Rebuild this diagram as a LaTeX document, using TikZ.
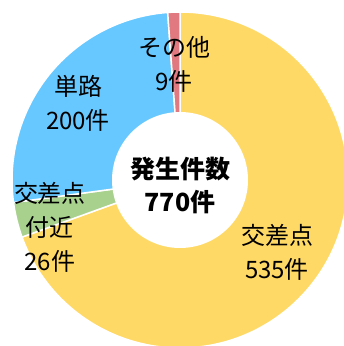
\documentclass[tikz,border=0pt]{standalone}
\usepackage{fontspec}
\setmainfont{Noto Sans CJK JP}
\definecolor{kosaten}{RGB}{255,217,102}
\definecolor{fukin}{RGB}{169,209,142}
\definecolor{tanro}{RGB}{102,200,255}
\definecolor{sonota}{RGB}{224,122,128}

\begin{document}
\begin{tikzpicture}[x=1pt,y=1pt,
			slice/.style={draw=white,line width=1.5pt},
			label node/.style={align=center,font=\fontsize{24}{34}\selectfont},
			total node/.style={align=center,font=\fontsize{25}{33}\selectfont\bfseries}]
			\useasboundingbox (0,0) rectangle (344,346);
			\clip (0,0) rectangle (344,346);
			\coordinate (c) at (180,166);
			% wedges, clockwise from the top
			\fill[kosaten,slice] (c) -- ++(90:168) arc (90:-160.13:168) -- cycle;
			\fill[fukin,slice] (c) -- ++(-160.13:168) arc (-160.13:-172.29:168) -- cycle;
			\fill[tanro,slice] (c) -- ++(-172.29:168) arc (-172.29:-265.79:168) -- cycle;
			\fill[sonota,slice] (c) -- ++(-265.79:168) arc (-265.79:-270:168) -- cycle;
			\fill[white] (c) circle (68);
			% labels
			\node[label node] (sonota) at (174,282) {その他\\9件};
			\node[label node] (tanro) at (78,243) {単路\\200件};
			\node[label node] (fukin) at (50,119) {交差点\\付近\\26件};
			\node[label node] (kosaten) at (277,94) {交差点\\535件};
			\node[total node] (total) at (180,161) {発生件数\\770件};
			
\end{tikzpicture}
\end{document}
